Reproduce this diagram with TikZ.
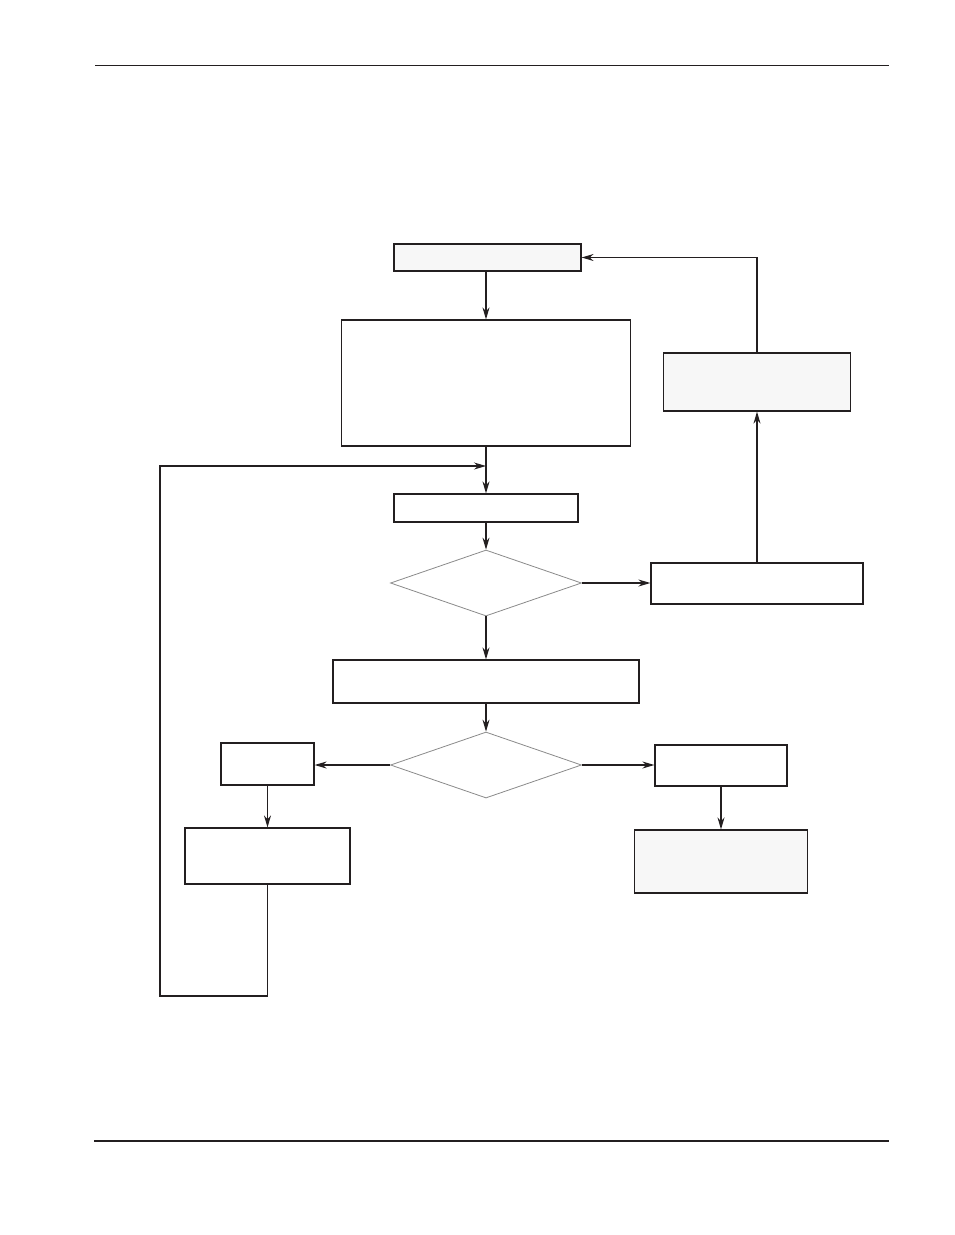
\documentclass[tikz,border=0pt]{standalone}
\usepackage{tikz}
\usetikzlibrary{shapes.geometric,arrows.meta}
\definecolor{ink}{HTML}{231F20}
\definecolor{boxfill}{HTML}{F7F7F7}
\definecolor{diagray}{HTML}{8A8A8A}
\begin{document}
\begin{tikzpicture}[
        x=1pt, y=-1pt,
        line width=1.2pt
    ]
    \tikzstyle{blk}=[draw=ink,shape=rectangle,inner sep=0pt,fill=white];
    \tikzstyle{gblk}=[blk,fill=boxfill];
    \tikzstyle{dec}=[draw=diagray,shape=diamond,inner sep=0pt,line width=0.8pt,
        minimum width=191pt,minimum height=66pt];
    \tikzstyle{arr}=[draw=ink,-{Stealth[length=12pt,width=7pt]}];
    \useasboundingbox (0,0) rectangle (954,1235);
    % page rules
    \draw[ink,line width=1pt] (95,65) -- (889,65);
    \draw[ink,line width=2.4pt] (94,1141) -- (889,1141);
    % main column
    \node[gblk,minimum width=187pt,minimum height=27pt] (start) at (487.5,257.5) {};
    \node[blk,minimum width=289pt,minimum height=126pt] (setup) at (486,383) {};
    \node[blk,minimum width=184pt,minimum height=28pt] (fetch) at (486,508) {};
    \node[dec] (testA) at (486,583) {};
    \node[blk,minimum width=306pt,minimum height=43pt] (apply) at (486,681.5) {};
    \node[dec] (testB) at (486,765) {};
    % right branch
    \node[blk,minimum width=212pt,minimum height=41pt] (fault) at (757,583.5) {};
    \node[gblk,minimum width=187pt,minimum height=58pt] (reset) at (757,382) {};
    % lower branches
    \node[blk,minimum width=93pt,minimum height=42pt] (left) at (267.5,764) {};
    \node[blk,minimum width=165pt,minimum height=56pt] (adjust) at (267.5,856) {};
    \node[blk,minimum width=132pt,minimum height=41pt] (right) at (721,765.5) {};
    \node[gblk,minimum width=173pt,minimum height=63pt] (done) at (721,861.5) {};
    % loop points
    \coordinate (loopB) at (160,996);
    \coordinate (merge) at (486,466);
    % connectors
    \draw[arr] (start.south -| setup.north) -- (setup.north);
    \draw[arr] (setup.south) -- (fetch.north);
    \draw[arr] (fetch.south) -- (testA.north);
    \draw[arr] (testA.east) -- (testA.east -| fault.west);
    \draw[arr] (fault.north) -- (reset.south);
    \draw[arr] (reset.north) |- (start.east);
    \draw[arr] (testA.south) -- (apply.north);
    \draw[arr] (apply.south) -- (testB.north);
    \draw[arr] (testB.west) -- (testB.west -| left.east);
    \draw[arr] (testB.east) -- (testB.east -| right.west);
    \draw[arr] (left.south) -- (adjust.north);
    \draw[arr] (right.south) -- (done.north);
    \draw[arr] (adjust.south) |- (loopB) |- (merge);
\end{tikzpicture}
\end{document}
